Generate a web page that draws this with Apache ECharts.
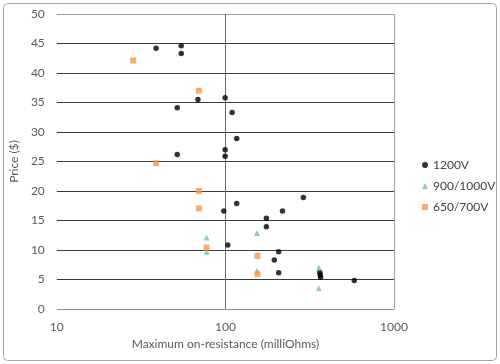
<!DOCTYPE html>
<html><head><meta charset="utf-8">
<script src="https://cdn.jsdelivr.net/npm/echarts@6/dist/echarts.min.js"></script>
<style>html,body{margin:0;padding:0;background:#fff}#c{width:500px;height:364px}</style>
</head><body><div id="c"></div>
<script>
const seriesNames = ['1200V', '900/1000V', '650/700V'];
const x1200 = [38.8, 54.7, 54.7, 51.8, 68.7, 99.6, 109.6, 116.7, 99.6, 99.6, 51.8, 97.8, 116.7, 103.3, 290, 218, 175, 175, 207, 195, 207, 363, 365, 367, 581];
const y1200 = [44.2, 44.6, 43.3, 34.1, 35.5, 35.8, 33.3, 28.9, 27.0, 25.9, 26.2, 16.6, 17.9, 10.85, 18.9, 16.6, 15.4, 13.95, 9.7, 8.3, 6.15, 6.2, 5.75, 5.4, 4.85];
const x900 = [77.3, 77.3, 154, 154, 358, 358];
const y900 = [12.1, 9.7, 12.9, 6.5, 7.05, 3.5];
const x650 = [28.4, 69.6, 38.8, 69.6, 69.6, 77.3, 155, 155];
const y650 = [42.1, 37.0, 24.7, 20.0, 17.05, 10.4, 9.0, 5.9];
const yTicks = [0, 5, 10, 15, 20, 25, 30, 35, 40, 45, 50];
const xTicks = [10, 100, 1000];

const pairs = (xs, ys) => xs.map((v, i) => [v, ys[i]]);
const font = 'Lato, "Open Sans", sans-serif';
const txt = '#595959';
const chart = echarts.init(document.getElementById('c'), null, {renderer: 'canvas'});
chart.setOption({
  animation: false,
  textStyle: {fontFamily: font},
  graphic: [{type: 'rect', shape: {x: 3.5, y: 3.5, width: 493, height: 357, r: 4}, style: {fill: 'none', stroke: '#a6a6a6', lineWidth: 1}, z: -1}],
  grid: {left: 55, right: 106, top: 14, bottom: 55},
  legend: {
    orient: 'vertical', left: 417, top: 154, itemWidth: 6, itemHeight: 6, itemGap: 9,
    textStyle: {color: '#404040', fontSize: 12, fontFamily: font},
    data: [{name: seriesNames[0], icon: 'circle'}, {name: seriesNames[1], icon: 'triangle'}, {name: seriesNames[2], icon: 'rect'}]
  },
  xAxis: {
    type: 'log', logBase: 10, min: xTicks[0], max: xTicks[xTicks.length - 1],
    name: 'Maximum on-resistance (milliOhms)', nameLocation: 'middle', nameGap: 29,
    nameTextStyle: {color: txt, fontSize: 12},
    axisLine: {show: false}, axisTick: {show: false},
    axisLabel: {color: txt, fontSize: 12, margin: 12, showMaxLabel: true, formatter: v => String(Math.round(v))},
    splitLine: {show: true, lineStyle: {color: ['rgba(0,0,0,0)', '#6b6b6b', '#a0a0a0'], width: 1}}
  },
  yAxis: {
    type: 'value', min: yTicks[0], max: yTicks[yTicks.length - 1], interval: 5,
    name: 'Price ($)', nameLocation: 'middle', nameGap: 30,
    nameTextStyle: {color: txt, fontSize: 12},
    axisLine: {show: false}, axisTick: {show: false},
    axisLabel: {color: txt, fontSize: 12, margin: 12},
    splitLine: {show: true, lineStyle: {color: ['#8c8c8c', '#3a3a3a', '#3a3a3a', '#3a3a3a', '#3a3a3a', '#3a3a3a', '#3a3a3a', '#3a3a3a', '#3a3a3a', '#3a3a3a', '#a0a0a0'], width: 1}}
  },
  series: [
    {name: seriesNames[0], type: 'scatter', symbol: 'circle', symbolSize: 5.5, itemStyle: {color: '#000'}, data: pairs(x1200, y1200)},
    {name: seriesNames[1], type: 'scatter', symbol: 'triangle', symbolSize: 6, itemStyle: {color: '#7dbcab'}, data: pairs(x900, y900)},
    {name: seriesNames[2], type: 'scatter', symbol: 'rect', symbolSize: 6, itemStyle: {color: '#f79646'}, data: pairs(x650, y650)}
  ]
});
</script></body></html>
